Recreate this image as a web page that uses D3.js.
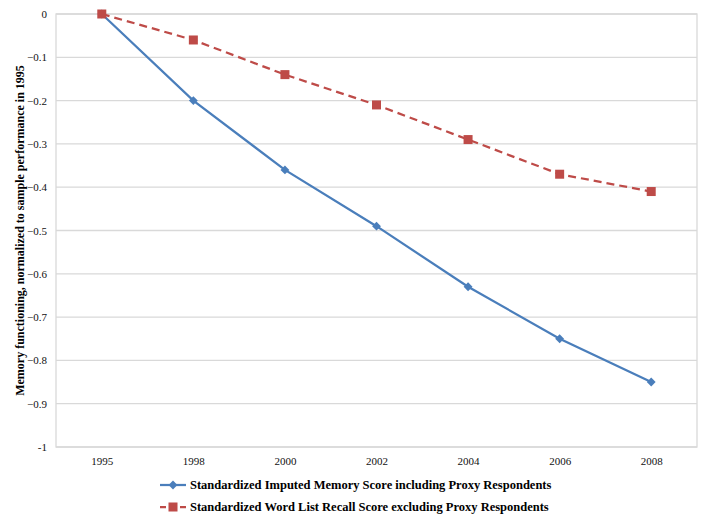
<!DOCTYPE html>
<html>
<head>
<meta charset="utf-8">
<script src="https://cdn.jsdelivr.net/npm/d3@7"></script>
<style>
  html, body { margin: 0; padding: 0; background: #fff; }
  svg { display: block; }
</style>
</head>
<body>
<svg id="chart" width="706" height="516"></svg>
<script>
const years = ["1995", "1998", "2000", "2002", "2004", "2006", "2008"];
const imputedMemory = [0, -0.20, -0.36, -0.49, -0.63, -0.75, -0.85];
const wordListRecall = [0, -0.06, -0.14, -0.21, -0.29, -0.37, -0.41];
const yTicks = [0, -0.1, -0.2, -0.3, -0.4, -0.5, -0.6, -0.7, -0.8, -0.9, -1];
const seriesNames = [
  "Standardized Imputed Memory Score including Proxy Respondents",
  "Standardized Word List Recall Score excluding Proxy Respondents"
];
const yTitle = "Memory functioning, normalized to sample performance in 1995";

const blue = "#4a7ebb", red = "#be4b48", grid = "#d9d9d9";
const font = "'Liberation Serif', 'Times New Roman', serif";

const svg = d3.select("#chart");
const m = { left: 56, right: 697, top: 14, bottom: 447 };

const x = d3.scalePoint().domain(years).range([m.left, m.right]).padding(0.5);
const y = d3.scaleLinear().domain([-1, 0]).range([m.bottom, m.top]);

// gridlines
svg.append("g").selectAll("line").data(yTicks).join("line")
  .attr("x1", m.left).attr("x2", m.right)
  .attr("y1", d => y(d)).attr("y2", d => y(d))
  .attr("stroke", grid).attr("stroke-width", 1.3);

// plot border
svg.append("rect")
  .attr("x", m.left).attr("y", m.top)
  .attr("width", m.right - m.left).attr("height", m.bottom - m.top)
  .attr("fill", "none").attr("stroke", grid).attr("stroke-width", 1.3);

// y axis labels
const yAxis = d3.axisLeft(y).tickValues(yTicks).tickSize(0).tickPadding(9)
  .tickFormat(d => d === 0 ? "0" : d === -1 ? "-1" : d3.format(".1f")(d));
const gy = svg.append("g").attr("transform", `translate(${m.left},0)`).call(yAxis);
gy.select(".domain").remove();
gy.selectAll("text").attr("font-family", font).attr("font-size", 11).attr("fill", "#111");

// x axis labels
const xAxis = d3.axisBottom(x).tickSize(0).tickPadding(10);
const gx = svg.append("g").attr("transform", `translate(0,${m.bottom})`).call(xAxis);
gx.select(".domain").remove();
gx.selectAll("text").attr("font-family", font).attr("font-size", 11).attr("fill", "#111");

// y title
svg.append("text")
  .attr("transform", `translate(24,${(m.top + m.bottom) / 2}) rotate(-90)`)
  .attr("text-anchor", "middle")
  .attr("font-family", font).attr("font-size", 12).attr("font-weight", "bold")
  .attr("fill", "#000")
  .text(yTitle);

const line = d3.line().x((d, i) => x(years[i])).y(d => y(d));

// blue series
svg.append("path").datum(imputedMemory)
  .attr("d", line).attr("fill", "none")
  .attr("stroke", blue).attr("stroke-width", 2.25);
const diamond = d3.symbol().type(d3.symbolDiamond2).size(50);
svg.append("g").selectAll("path").data(imputedMemory).join("path")
  .attr("transform", (d, i) => `translate(${x(years[i])},${y(d)})`)
  .attr("d", diamond).attr("fill", blue);

// red series
svg.append("path").datum(wordListRecall)
  .attr("d", line).attr("fill", "none")
  .attr("stroke", red).attr("stroke-width", 2.25)
  .attr("stroke-dasharray", "8,5");
svg.append("g").selectAll("rect").data(wordListRecall).join("rect")
  .attr("x", (d, i) => x(years[i]) - 4.5).attr("y", d => y(d) - 4.5)
  .attr("width", 9).attr("height", 9).attr("fill", red);

// legend
const lg = svg.append("g");
const legendY = [485, 507];
[0, 1].forEach(i => {
  const yy = legendY[i];
  lg.append("line").attr("x1", 160).attr("x2", 186).attr("y1", yy).attr("y2", yy)
    .attr("stroke", i === 0 ? blue : red).attr("stroke-width", 2.25)
    .attr("stroke-dasharray", i === 0 ? null : "6,4");
  if (i === 0) {
    lg.append("path").attr("transform", `translate(173,${yy})`).attr("d", diamond).attr("fill", blue);
  } else {
    lg.append("rect").attr("x", 168.5).attr("y", yy - 4.5).attr("width", 9).attr("height", 9).attr("fill", red);
  }
  lg.append("text").attr("x", 190).attr("y", yy).attr("dy", "0.35em")
    .attr("font-family", font).attr("font-size", 12.5).attr("font-weight", "bold")
    .attr("fill", "#000").text(seriesNames[i]);
});
</script>
</body>
</html>
